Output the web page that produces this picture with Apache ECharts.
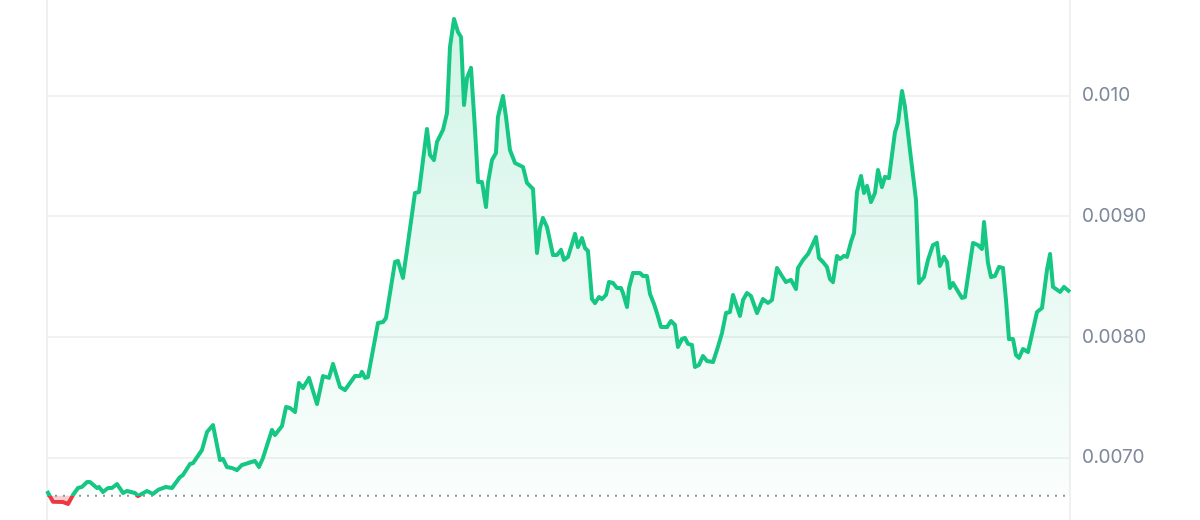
<!DOCTYPE html>
<html>
<head>
<meta charset="utf-8">
<script src="https://cdn.jsdelivr.net/npm/echarts@6/dist/echarts.min.js"></script>
<style>
html,body{margin:0;padding:0;background:#fff;}
#chart{width:1200px;height:520px;}
</style>
</head>
<body>
<div id="chart"></div>
<script>
// Time (hours from start of the 7-day window)
const hours = [0,0.99,2.63,3.45,4.27,5.09,5.75,6.57,7.06,8.21,8.54,9.20,10.02,10.67,11.50,12.48,13.14,14.45,14.94,16.42,
17.41,18.23,19.54,20.53,21.84,22.33,23.48,23.98,25.45,26.28,27.26,28.41,28.90,29.56,30.38,31.20,32.02,33.01,34.16,34.81,
35.47,36.95,37.44,38.59,39.25,39.91,40.73,41.38,42.04,43.03,44.34,45.33,46.31,46.97,48.12,48.94,50.58,51.40,51.73,52.22,
52.71,54.36,55.18,55.67,57.15,57.64,58.46,59.12,60.43,61.09,62.40,62.90,63.55,64.05,65.03,65.69,66.18,66.84,67.49,67.99,
68.48,68.97,69.63,70.29,70.78,71.44,72.09,72.42,73.08,73.73,74.06,74.88,75.38,76.03,76.86,78.17,78.83,79.81,80.47,80.96,
81.45,82.11,83.10,83.75,84.41,84.90,85.56,86.71,87.20,87.86,88.35,88.84,89.50,89.99,90.65,91.14,91.80,92.29,92.95,93.61,
94.26,94.59,95.25,95.58,96.23,97.38,97.88,98.53,99.03,99.68,100.17,100.83,101.82,102.47,103.13,103.62,104.28,104.77,105.27,105.92,
106.41,107.07,107.73,108.39,109.37,110.03,110.85,111.51,112.16,112.66,113.80,114.30,114.96,115.61,116.60,117.58,118.40,119.06,119.88,120.70,
121.36,122.18,123.00,123.33,124.15,124.97,125.63,126.29,126.78,127.44,128.09,128.58,129.08,129.73,130.23,130.88,131.38,132.03,132.53,133.02,
133.68,134.17,134.66,135.32,135.97,136.47,137.12,137.62,138.27,139.26,139.75,140.41,140.90,141.72,142.71,143.20,144.02,144.68,145.50,146.16,
146.65,147.31,147.80,148.29,148.78,150.26,150.75,152.07,152.89,153.55,153.88,154.53,155.02,155.68,156.34,156.99,157.49,157.98,158.64,159.13,
159.62,160.28,161.10,162.58,163.40,164.22,164.72,165.21,166.36,167.02,168.00];

// Price (USD)
const prices = [0.006722,0.006634,0.006631,0.006615,0.006689,0.006747,0.006756,0.006797,0.006797,0.006747,0.006756,0.006714,0.006747,0.006747,0.006780,0.006706,0.006722,0.006706,0.006681,0.006722,
0.006698,0.006731,0.006756,0.006747,0.006838,0.006855,0.006946,0.006954,0.007062,0.007211,0.007269,0.006979,0.006988,0.006921,0.006913,0.006896,0.006938,0.006954,0.006971,0.006921,
0.006996,0.007228,0.007186,0.007261,0.007418,0.007410,0.007377,0.007617,0.007576,0.007659,0.007443,0.007675,0.007659,0.007775,0.007584,0.007559,0.007675,0.007675,0.007709,0.007659,
0.007667,0.008115,0.008123,0.008156,0.008620,0.008628,0.008488,0.008720,0.009192,0.009200,0.009722,0.009507,0.009465,0.009615,0.009714,0.009855,0.010402,0.010634,0.010526,0.010485,
0.009921,0.010145,0.010228,0.009714,0.009283,0.009283,0.009076,0.009275,0.009465,0.009523,0.009822,0.009996,0.009822,0.009548,0.009441,0.009407,0.009275,0.009225,0.008695,0.008902,
0.008985,0.008910,0.008678,0.008678,0.008720,0.008637,0.008662,0.008852,0.008744,0.008819,0.008736,0.008711,0.008313,0.008280,0.008330,0.008313,0.008347,0.008454,0.008446,0.008405,
0.008405,0.008363,0.008247,0.008405,0.008529,0.008529,0.008504,0.008504,0.008355,0.008272,0.008197,0.008081,0.008081,0.008131,0.008098,0.007916,0.007982,0.007990,0.007941,0.007932,
0.007750,0.007767,0.007841,0.007800,0.007791,0.007891,0.008032,0.008197,0.008206,0.008347,0.008173,0.008305,0.008363,0.008338,0.008197,0.008313,0.008280,0.008305,0.008570,0.008504,
0.008454,0.008471,0.008396,0.008570,0.008637,0.008686,0.008753,0.008827,0.008653,0.008620,0.008579,0.008479,0.008454,0.008670,0.008645,0.008670,0.008662,0.008786,0.008860,0.009200,
0.009333,0.009192,0.009250,0.009117,0.009192,0.009383,0.009242,0.009325,0.009316,0.009697,0.009772,0.010037,0.009905,0.009548,0.009134,0.008446,0.008496,0.008637,0.008761,0.008778,
0.008587,0.008662,0.008620,0.008405,0.008446,0.008322,0.008330,0.008778,0.008761,0.008728,0.008952,0.008612,0.008496,0.008504,0.008579,0.008570,0.008305,0.007982,0.007982,0.007849,
0.007825,0.007899,0.007874,0.008206,0.008239,0.008554,0.008686,0.008413,0.008372,0.008413,0.008372];

// Reference (opening) price shown as the dotted baseline
const basePrice = 0.006683;

// Y-axis tick labels
const yTicks = [0.007, 0.008, 0.009, 0.010];

// Visible y range of the plot
const yMin = 0.006482;
const yMax = 0.010791;

const GREEN = '#16c784';
const RED = '#ea3943';

const linePts = hours.map((h, i) => [h, prices[i]]);
const upPts = hours.map((h, i) => [h, Math.max(prices[i], basePrice)]);
const downPts = hours.map((h, i) => [h, Math.min(prices[i], basePrice)]);
const basePts = [[hours[0], basePrice], [hours[hours.length - 1], basePrice]];

const edgeLine = {show: true, onZero: false, lineStyle: {color: '#f0f0f0', width: 2}};

const chart = echarts.init(document.getElementById('chart'), null, {renderer: 'canvas'});
chart.setOption({
  animation: false,
  backgroundColor: '#ffffff',
  grid: {left: 47, right: 130, top: 0, bottom: 0},
  xAxis: {
    type: 'value', min: 0, max: 168,
    axisLine: {show: false}, axisTick: {show: false},
    axisLabel: {show: false}, splitLine: {show: false}
  },
  yAxis: [
    {
      type: 'value', position: 'right', min: yMin, max: yMax,
      axisLine: edgeLine,
      axisTick: {show: false, customValues: yTicks},
      splitLine: {show: true, lineStyle: {color: '#ececec', width: 1.5}},
      axisLabel: {
        customValues: yTicks,
        margin: 12, color: '#808a9d', fontSize: 19, fontFamily: 'Inter, sans-serif',
        formatter: v => v.toPrecision(2)
      }
    },
    {
      type: 'value', position: 'left', min: yMin, max: yMax,
      axisLine: edgeLine, axisTick: {show: false},
      axisLabel: {show: false}, splitLine: {show: false}
    }
  ],
  series: [
    {
      type: 'line', data: upPts, showSymbol: false, silent: true,
      lineStyle: {width: 0, opacity: 0},
      areaStyle: {
        origin: basePrice,
        color: new echarts.graphic.LinearGradient(0, 0, 0, 1, [
          {offset: 0, color: 'rgba(22,199,132,0.28)'},
          {offset: 1, color: 'rgba(22,199,132,0.03)'}
        ])
      },
      z: 1
    },
    {
      type: 'line', data: downPts, showSymbol: false, silent: true,
      lineStyle: {width: 0, opacity: 0},
      areaStyle: {origin: basePrice, color: 'rgba(234,57,67,0.35)'},
      z: 1
    },
    {
      type: 'line', data: basePts, showSymbol: false, silent: true,
      lineStyle: {color: '#8f96a0', type: [2, 6], width: 2.2},
      z: 2
    },
    {
      type: 'line', data: linePts, showSymbol: false,
      lineStyle: {width: 4, join: 'round', color: GREEN},
      z: 3
    }
  ]
});

// Colour the price line red below the baseline, green above (split at the baseline's pixel row)
const baseY = chart.convertToPixel({yAxisIndex: 0}, basePrice);
const H = chart.getHeight();
const off = Math.min(1, Math.max(0, baseY / H));
chart.setOption({
  series: [{}, {}, {}, {
    lineStyle: {
      color: new echarts.graphic.LinearGradient(0, 0, 0, H, [
        {offset: 0, color: GREEN},
        {offset: off, color: GREEN},
        {offset: off, color: RED},
        {offset: 1, color: RED}
      ], true)
    }
  }]
});
</script>
</body>
</html>
